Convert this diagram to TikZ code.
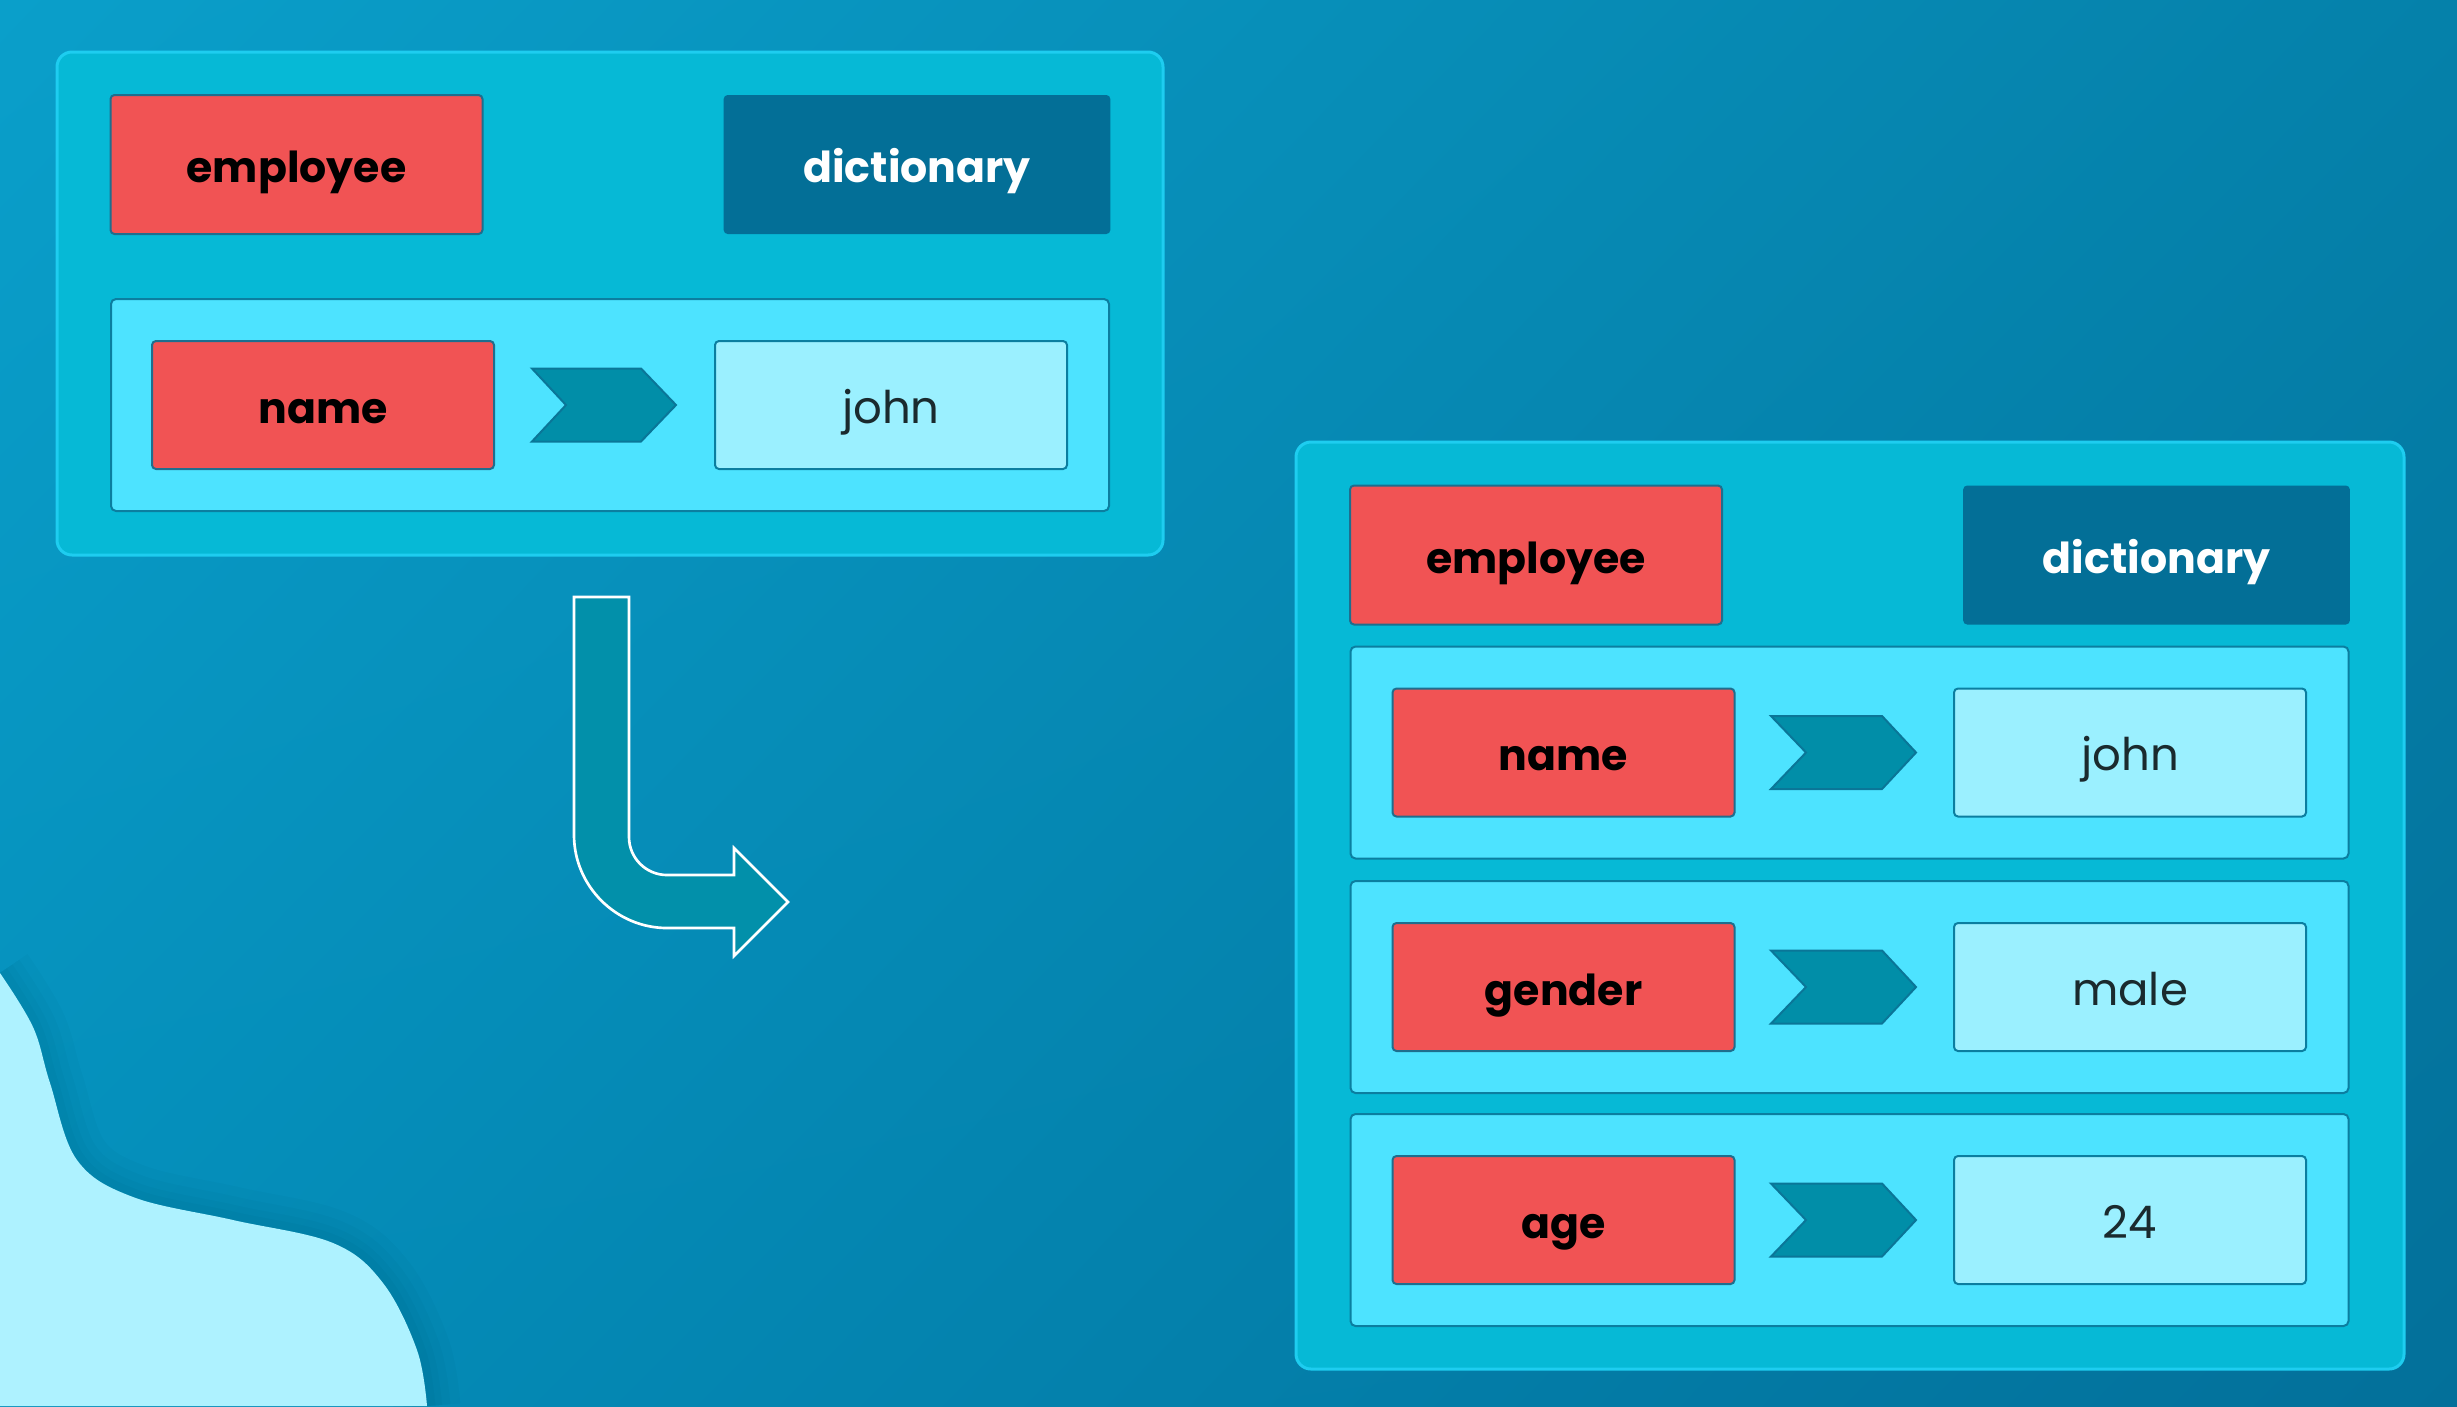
\documentclass[tikz,border=0pt]{standalone}
\usepackage{fontspec}
\usetikzlibrary{shadings}
\setmainfont{Poppins}
\definecolor{bgTL}{HTML}{0A9FCA}
\definecolor{bgTR}{HTML}{0581AA}
\definecolor{bgBL}{HTML}{048EBA}
\definecolor{bgBR}{HTML}{03709A}
\definecolor{panelfill}{HTML}{06B9D6}
\definecolor{panelline}{HTML}{1ECDF0}
\definecolor{rowfill}{HTML}{4DE3FF}
\definecolor{rowline}{HTML}{0B7EA0}
\definecolor{keyfill}{HTML}{F15354}
\definecolor{keyline}{HTML}{1E6E8E}
\definecolor{dictfill}{HTML}{036F97}
\definecolor{valfill}{HTML}{9BF0FF}
\definecolor{chevfill}{HTML}{018EA8}
\definecolor{chevline}{HTML}{0A7698}
\definecolor{bigarrow}{HTML}{0290AA}
\definecolor{wavefill}{HTML}{AEF2FF}
\definecolor{valtext}{HTML}{1A2A2E}
\begin{document}
\begin{tikzpicture}[x=0.3pt,y=-0.3pt,
  boxtext/.style={text height=1.15em,text depth=0.05em},
  panelbox/.style={draw=panelline,line width=0.9pt,fill=panelfill,rounded corners=4.5pt},
  rowbox/.style={draw=rowline,line width=0.6pt,fill=rowfill,rounded corners=1.5pt,minimum width=299.4pt,minimum height=63.6pt,inner sep=0pt},
  keybox/.style={draw=keyline,line width=0.6pt,fill=keyfill,rounded corners=1.2pt,minimum width=102.6pt,minimum height=38.4pt,inner sep=0pt,font=\fontsize{12.8}{15}\selectfont\bfseries,text=black,boxtext},
  valbox/.style={draw=rowline,line width=0.6pt,fill=valfill,rounded corners=1.2pt,minimum width=105.6pt,minimum height=38.4pt,inner sep=0pt,font=\fontsize{13.5}{16}\selectfont,text=valtext,boxtext},
  headkey/.style={keybox,minimum width=111.6pt,minimum height=41.7pt},
  dictbox/.style={fill=dictfill,rounded corners=1.2pt,minimum width=116pt,minimum height=41.7pt,inner sep=0pt,font=\fontsize{12.8}{15}\selectfont\bfseries,text=white,boxtext},
  chev/.style={draw=chevline,line width=0.6pt,fill=chevfill,line join=miter}]
% background
\shade[upper left=bgTL,upper right=bgTR,lower left=bgBL,lower right=bgBR] (0,0) rectangle (2457,1406);
\useasboundingbox (0,0) rectangle (2457,1406);
% wave with soft shadow
\foreach \w in {20,14,9,5}{
  \draw[line width=\w pt,draw=black,opacity=0.018] plot[smooth,tension=0.6] coordinates {(0,973) (33,1027) (50,1083) (77,1160) (133,1197) (233,1220) (333,1243) (383,1283) (417,1350) (427,1406)};
}
\fill[wavefill] plot[smooth,tension=0.6] coordinates {(0,973) (33,1027) (50,1083) (77,1160) (133,1197) (233,1220) (333,1243) (383,1283) (417,1350) (427,1406)} -- (0,1406) -- cycle;
% left panel
\draw[panelbox] (57,52) rectangle (1163,555);
\node[headkey] (emp1) at (296.5,164.5) {employee};
\node[dictbox] (dict1) at (917,164.5) {dictionary};
\node[rowbox] (row1L) at (610,405) {};
\node[keybox] (name1) at (323,405) {name};
\node[valbox] (john1) at (891,405) {john};
\draw[chev] (532,368.5) -- (641,368.5) -- (676,405) -- (641,441.5) -- (532,441.5) -- (566,405) -- cycle;
% big bent arrow
\draw[fill=bigarrow,draw=white,line width=0.8pt,line join=miter]
  (574,597) -- (629,597) -- (629,837) .. controls (629,858) and (646,875) .. (667,875)
  -- (734,875) -- (734,848) -- (788,902) -- (734,956) -- (734,928) -- (667,928)
  .. controls (616,928) and (574,886) .. (574,835) -- cycle;
% right panel
\draw[panelbox] (1296,442) rectangle (2404,1369);
\node[headkey] (emp2) at (1536,555) {employee};
\node[dictbox] (dict2) at (2156.5,555) {dictionary};
\foreach \nm/\k/\v/\yy in {a/name/john/752.5, b/gender/male/987, c/age/24/1220}{
  \node[rowbox] (row\nm) at (1849.5,\yy) {};
  \node[keybox] (key\nm) at (1563.5,\yy) {\k};
  \node[valbox] (val\nm) at (2130,\yy) {\v};
  \draw[chev] (1771,\yy-36.5) -- (1882,\yy-36.5) -- (1916,\yy) -- (1882,\yy+36.5) -- (1771,\yy+36.5) -- (1806,\yy) -- cycle;
}
\end{tikzpicture}
\end{document}
